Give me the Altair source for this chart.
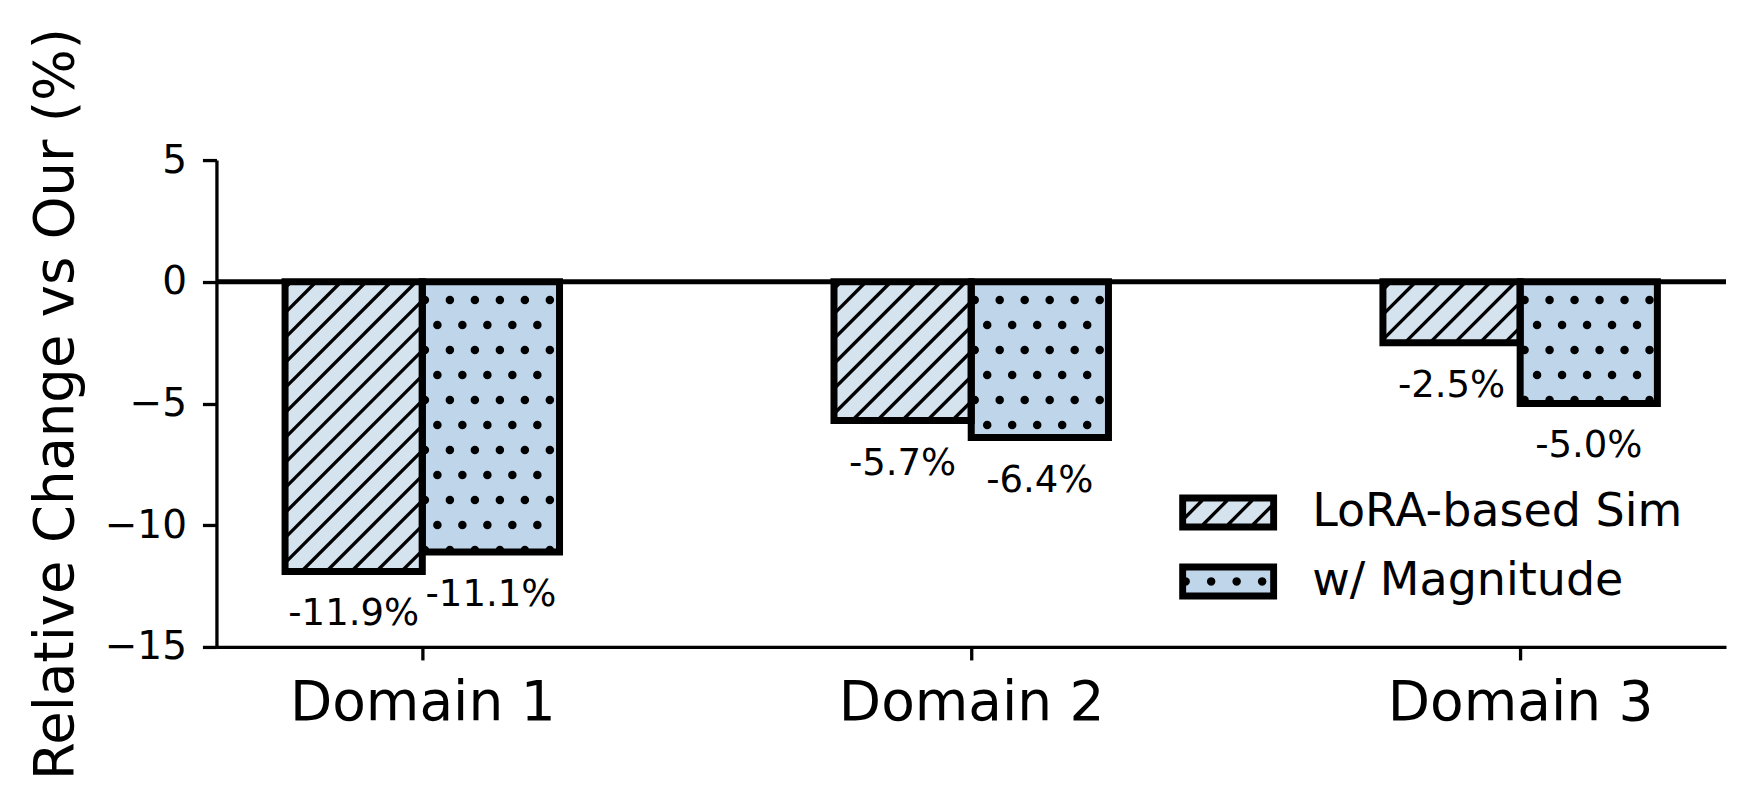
import math
import altair as alt
import pandas as pd

# ---------------- data ----------------
categories = ["Domain 1", "Domain 2", "Domain 3"]
series_names = ["LoRA-based Sim", "w/ Magnitude"]
lora_values = [-11.9, -5.7, -2.5]
magnitude_values = [-11.1, -6.4, -5.0]
y_ticks = [-15, -10, -5, 0, 5]
series_colors = ["#d5e3ef", "#bfd5ea"]
y_title = "Relative Change vs Our (%)"

# ---------------- layout / style ----------------
FONT = "DejaVu Sans"
PLOT_W, PLOT_H = 1510, 487
X_DOMAIN = [-0.375, 2.375]
Y_DOMAIN = [-15, 5]
BAR_W = 0.25
HATCH_STEP = 25.0
HATCH_PHASE = 21.5
DOT_X_PHASE = 8.5
DOT_Y_PHASE = 40.0

rows = []
for i, cat in enumerate(categories):
    for s, (name, vals) in enumerate(zip(series_names, [lora_values, magnitude_values])):
        v = vals[i]
        x0 = i - BAR_W + s * BAR_W
        rows.append(dict(category=cat, series=name, value=v, x0=x0, x1=x0 + BAR_W,
                         xc=x0 + BAR_W / 2, label=f"{v:.1f}%",
                         hatch="lines" if s == 0 else "dots"))
bars = pd.DataFrame(rows)


def px_x(x):
    return (x - X_DOMAIN[0]) / (X_DOMAIN[1] - X_DOMAIN[0]) * PLOT_W


def px_y(y):
    return (Y_DOMAIN[1] - y) / (Y_DOMAIN[1] - Y_DOMAIN[0]) * PLOT_H


def to_dx(X):
    return X_DOMAIN[0] + X / PLOT_W * (X_DOMAIN[1] - X_DOMAIN[0])


def to_dy(Y):
    return Y_DOMAIN[1] - Y / PLOT_H * (Y_DOMAIN[1] - Y_DOMAIN[0])


# hatch texture derived from the bar rectangles
seg_rows, dot_rows = [], []
for r in rows:
    L, R = px_x(r["x0"]), px_x(r["x1"])
    T, B = px_y(0), px_y(r["value"])
    if r["hatch"] == "lines":
        k0 = math.floor((L + T - HATCH_PHASE) / HATCH_STEP) - 1
        k1 = math.ceil((R + B - HATCH_PHASE) / HATCH_STEP) + 1
        for k in range(k0, k1 + 1):
            c = HATCH_PHASE + k * HATCH_STEP
            xa = max(L, c - B)
            xb = min(R, c - T)
            if xb - xa > 0.5:
                seg_rows.append(dict(x=to_dx(xa), y=to_dy(c - xa), x2=to_dx(xb), y2=to_dy(c - xb)))
    else:
        j0 = math.floor((T - DOT_Y_PHASE) / HATCH_STEP) - 1
        j1 = math.ceil((B - DOT_Y_PHASE) / HATCH_STEP) + 1
        for j in range(j0, j1 + 1):
            Y = DOT_Y_PHASE + j * HATCH_STEP
            if Y < T - 0.5 or Y > B + 0.5:
                continue
            xoff = DOT_X_PHASE + (HATCH_STEP / 2 if j % 2 else 0)
            k0 = math.floor((L - xoff) / HATCH_STEP) - 1
            k1 = math.ceil((R - xoff) / HATCH_STEP) + 1
            for k in range(k0, k1 + 1):
                X = xoff + k * HATCH_STEP
                if L - 0.5 <= X <= R + 0.5:
                    dot_rows.append(dict(x=to_dx(X), y=to_dy(Y)))

segs = pd.DataFrame(seg_rows)
dots_df = pd.DataFrame(dot_rows)


# legend swatch paths (custom symbol shapes)
def legend_path(kind):
    u = 20.0
    hx, hy = 45.5, 14.5
    parts = []
    for d in (-1.8, 0.0, 1.8):
        a, b = (hx + d) / u, (hy + d) / u
        parts.append(f"M{-a:.3f},{-b:.3f}L{a:.3f},{-b:.3f}L{a:.3f},{b:.3f}L{-a:.3f},{b:.3f}Z")
    if kind == "lines":
        for k in range(-6, 7):
            c = 12.0 + k * HATCH_STEP
            xa = max(-hx, c - hy)
            xb = min(hx, c + hy)
            if xb - xa > 0.5:
                parts.append(f"M{xa / u:.3f},{(c - xa) / u:.3f}L{xb / u:.3f},{(c - xb) / u:.3f}")
    else:
        for xc in (-42.5, -17.0, 8.5, 34.0):
            for rr in (1.0, 2.6):
                pts = []
                for t in range(12):
                    ang = 2 * math.pi * t / 12
                    pts.append(f"{(xc + rr * math.cos(ang)) / u:.3f},{(rr * math.sin(ang)) / u:.3f}")
                parts.append("M" + "L".join(pts) + "Z")
    return " ".join(parts)


shape_paths = [legend_path("lines"), legend_path("dots")]

# ---------------- scales / axes ----------------
x_scale = alt.Scale(domain=X_DOMAIN, nice=False, zero=False)
y_scale = alt.Scale(domain=Y_DOMAIN, nice=False, zero=False)
fill_scale = alt.Scale(domain=series_names, range=series_colors)
shape_scale = alt.Scale(domain=series_names, range=shape_paths)
stroke_scale = alt.Scale(domain=series_names, range=["black", "black"])

cat_expr = "[" + ",".join("'" + c + "'" for c in categories) + "][datum.value]"
x_axis = alt.Axis(values=[0, 1, 2], labelExpr=cat_expr, title=None, grid=False,
                  tickSize=13, tickWidth=3.3, tickColor="black",
                  domainColor="black", domainWidth=3.3, labelLimit=1000,
                  labelFont=FONT, labelFontSize=55, labelColor="black", labelPadding=17)
y_axis = alt.Axis(values=y_ticks,
                  labelExpr="datum.value < 0 ? '\u2212' + abs(datum.value) : '' + datum.value",
                  title=y_title, grid=False,
                  tickSize=14, tickWidth=3.3, tickColor="black",
                  domainColor="black", domainWidth=3.3,
                  labelFont=FONT, labelFontSize=39, labelColor="black", labelPadding=16,
                  titleFont=FONT, titleFontSize=54.5, titleFontWeight="normal", titleColor="black",
                  titleX=-160, titleY=PLOT_H / 2, titleBaseline="middle", titleAngle=270,
                  titleLimit=2000)

X = lambda f: alt.X(f, type="quantitative", scale=x_scale, axis=x_axis)
Y = lambda f: alt.Y(f, type="quantitative", scale=y_scale, axis=y_axis)

leg = alt.Legend(title=None, orient="none", legendX=989, legendY=329.5,
                 symbolSize=1600, symbolStrokeWidth=3.3,
                 symbolOpacity=1, symbolOffset=0,
                 labelFont=FONT, labelFontSize=46, labelColor="black", labelLimit=1000,
                 labelOffset=61, labelBaseline="middle", rowPadding=23, padding=0)

base = alt.Chart(bars)

# invisible carrier of the legend (first layer so its legend settings win)
legend_pts = base.mark_point(filled=True, opacity=0, strokeWidth=3.3).encode(
    x=X("xc"), y=Y("value"),
    fill=alt.Fill("series:N", scale=fill_scale, legend=leg),
    shape=alt.Shape("series:N", scale=shape_scale, legend=leg),
    stroke=alt.Stroke("series:N", scale=stroke_scale, legend=leg),
)

fills = base.mark_rect().encode(
    x=X("x0"), x2="x1", y=Y("value"), y2=alt.datum(0),
    fill=alt.Fill("series:N", scale=fill_scale, legend=None),
)

hatch = alt.Chart(segs).mark_rule(color="black", strokeWidth=3.3, strokeCap="butt").encode(
    x=X("x"), y=Y("y"), x2="x2", y2="y2"
)

dots = alt.Chart(dots_df).mark_circle(color="black", opacity=1, size=72).encode(
    x=X("x"), y=Y("y")
)

outline = base.mark_rect(fillOpacity=0, stroke="black", strokeWidth=7).encode(
    x=X("x0"), x2="x1", y=Y("value"), y2=alt.datum(0)
)

zero = alt.Chart(pd.DataFrame({"zero": [0]})).mark_rule(color="black", strokeWidth=5).encode(
    y=Y("zero")
)

labels = base.mark_text(font=FONT, fontSize=37, color="black", baseline="middle",
                        align="center", dy=43).encode(
    x=X("xc"), y=Y("value"), text="label:N"
)

chart = alt.layer(legend_pts, fills, hatch, dots, outline, zero, labels).properties(
    width=PLOT_W, height=PLOT_H,
    autosize=alt.AutoSizeParams(type="none"),
    padding={"left": 208.5, "top": 152, "right": 26, "bottom": 150},
).configure(font=FONT).configure_view(stroke="transparent", strokeWidth=0)

chart.save("out.html", embed_options={"renderer": "svg", "actions": False})
